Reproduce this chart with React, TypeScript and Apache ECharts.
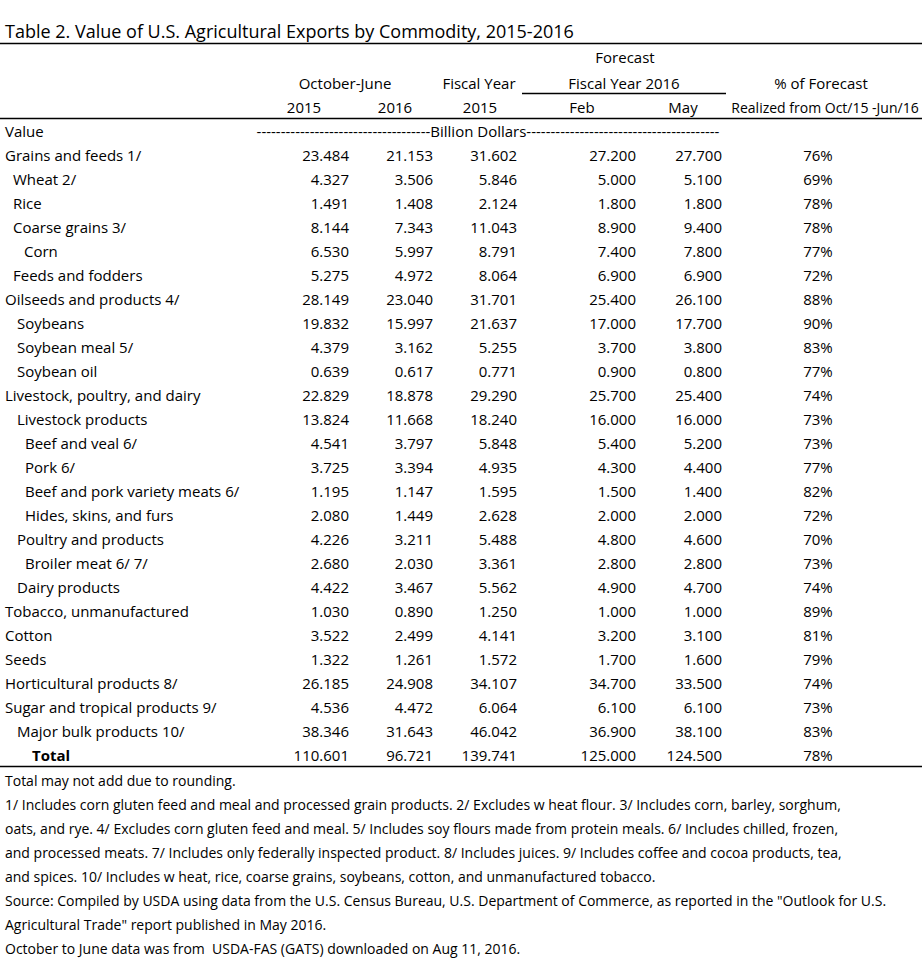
import React, { useEffect, useRef } from 'react';
import * as echarts from 'echarts';

const TITLE = 'Table 2. Value of U.S. Agricultural Exports by Commodity, 2015-2016';

const commodities = [
  'Grains and feeds 1/', 'Wheat 2/', 'Rice', 'Coarse grains 3/', 'Corn', 'Feeds and fodders',
  'Oilseeds and products 4/', 'Soybeans', 'Soybean meal 5/', 'Soybean oil',
  'Livestock, poultry, and dairy', 'Livestock products', 'Beef and veal 6/', 'Pork 6/',
  'Beef and pork variety meats 6/', 'Hides, skins, and furs', 'Poultry and products',
  'Broiler meat 6/ 7/', 'Dairy products', 'Tobacco, unmanufactured', 'Cotton', 'Seeds',
  'Horticultural products 8/', 'Sugar and tropical products 9/', 'Major bulk products 10/', 'Total',
];
const octJun2015 = [23.484, 4.327, 1.491, 8.144, 6.530, 5.275, 28.149, 19.832, 4.379, 0.639, 22.829, 13.824, 4.541, 3.725, 1.195, 2.080, 4.226, 2.680, 4.422, 1.030, 3.522, 1.322, 26.185, 4.536, 38.346, 110.601];
const octJun2016 = [21.153, 3.506, 1.408, 7.343, 5.997, 4.972, 23.040, 15.997, 3.162, 0.617, 18.878, 11.668, 3.797, 3.394, 1.147, 1.449, 3.211, 2.030, 3.467, 0.890, 2.499, 1.261, 24.908, 4.472, 31.643, 96.721];
const fiscal2015 = [31.602, 5.846, 2.124, 11.043, 8.791, 8.064, 31.701, 21.637, 5.255, 0.771, 29.290, 18.240, 5.848, 4.935, 1.595, 2.628, 5.488, 3.361, 5.562, 1.250, 4.141, 1.572, 34.107, 6.064, 46.042, 139.741];
const forecastFeb = [27.2, 5.0, 1.8, 8.9, 7.4, 6.9, 25.4, 17.0, 3.7, 0.9, 25.7, 16.0, 5.4, 4.3, 1.5, 2.0, 4.8, 2.8, 4.9, 1.0, 3.2, 1.7, 34.7, 6.1, 36.9, 125.0];
const forecastMay = [27.7, 5.1, 1.8, 9.4, 7.8, 6.9, 26.1, 17.7, 3.8, 0.8, 25.4, 16.0, 5.2, 4.4, 1.4, 2.0, 4.6, 2.8, 4.7, 1.0, 3.1, 1.6, 33.5, 6.1, 38.1, 124.5];
const pctRealized = [76, 69, 78, 78, 77, 72, 88, 90, 83, 77, 74, 73, 73, 77, 82, 72, 70, 73, 74, 89, 81, 79, 74, 73, 83, 78];

const footnotes = [
  'Total may not add due to rounding.',
  '1/ Includes corn gluten feed and meal and processed grain products. 2/ Excludes w heat flour. 3/ Includes corn, barley, sorghum,',
  'oats, and rye. 4/ Excludes corn gluten feed and meal. 5/ Includes soy flours made from protein meals. 6/ Includes chilled, frozen,',
  'and processed meats. 7/ Includes only federally inspected product. 8/ Includes juices. 9/ Includes coffee and cocoa products, tea,',
  'and spices. 10/ Includes w heat, rice, coarse grains, soybeans, cotton, and unmanufactured tobacco.',
  'Source: Compiled by USDA using data from the U.S. Census Bureau, U.S. Department of Commerce, as reported in the "Outlook for U.S.',
  'Agricultural Trade" report published in May 2016.',
  'October to June data was from  USDA-FAS (GATS) downloaded on Aug 11, 2016.',
];

const FONT = '"Open Sans", sans-serif';
const FS = 15;
const COLOR = '#000';

// label indents (px) per row
const INDENT = [5, 13, 13, 13, 24, 13, 5, 17, 17, 17, 5, 17, 25, 25, 25, 25, 17, 25, 17, 5, 5, 5, 5, 5, 17, 32];

export default function App() {
  const ref = useRef<HTMLDivElement>(null);
  useEffect(() => {
    document.body.style.margin = '0';
    const chart = echarts.init(ref.current!, null, { renderer: 'svg' });
    const els: any[] = [];
    const txt = (x: number, y: number, text: string, align: string = 'left', extra: any = {}) => {
      els.push({
        type: 'text', x, y, silent: true,
        style: { text, x: 0, y: 0, fill: COLOR, font: `${extra.weight || 'normal'} ${extra.size || FS}px ${FONT}`, align, verticalAlign: 'middle' },
      });
    };
    const hline = (x1: number, x2: number, y: number, w = 1.3) => {
      els.push({ type: 'line', silent: true, shape: { x1, y1: y, x2, y2: y }, style: { stroke: COLOR, lineWidth: w } });
    };

    txt(5, 31, TITLE, 'left', { size: 18 });
    hline(0, 922, 43.5);

    // header
    txt(625, 57, 'Forecast', 'center');
    txt(345, 83, 'October-June', 'center');
    txt(479, 83, 'Fiscal Year', 'center');
    txt(624, 83, 'Fiscal Year 2016', 'center');
    txt(821, 83, '% of Forecast', 'center');
    hline(522, 726, 93.5);
    txt(304, 107, '2015', 'center');
    txt(395, 107, '2016', 'center');
    txt(480, 107, '2015', 'center');
    txt(582, 107, 'Feb', 'center');
    txt(683, 107, 'May', 'center');
    txt(825, 107, 'Realized from Oct/15 -Jun/16', 'center', { size: 14 });
    hline(0, 922, 118.5);

    txt(5, 131, 'Value');
    txt(488, 131, '-'.repeat(36) + 'Billion Dollars' + '-'.repeat(40), 'center');

    const colRight = [349, 433, 517, 636, 722];
    const cols = [octJun2015, octJun2016, fiscal2015, forecastFeb, forecastMay];
    commodities.forEach((name, i) => {
      const y = 155 + i * 24;
      const bold = name === 'Total';
      txt(INDENT[i], y, name, 'left', { weight: bold ? 'bold' : 'normal' });
      cols.forEach((arr, c) => txt(colRight[c], y, arr[i].toFixed(3), 'right'));
      txt(818, y, pctRealized[i] + '%', 'center');
    });
    hline(0, 922, 766.5);

    footnotes.forEach((t, i) => txt(5, 780 + i * 24, t, 'left', { size: 14 }));

    chart.setOption({ animation: false, backgroundColor: '#fff', graphic: { elements: els } });
    return () => chart.dispose();
  }, []);
  return <div ref={ref} style={{ width: 922, height: 960 }} />;
}
